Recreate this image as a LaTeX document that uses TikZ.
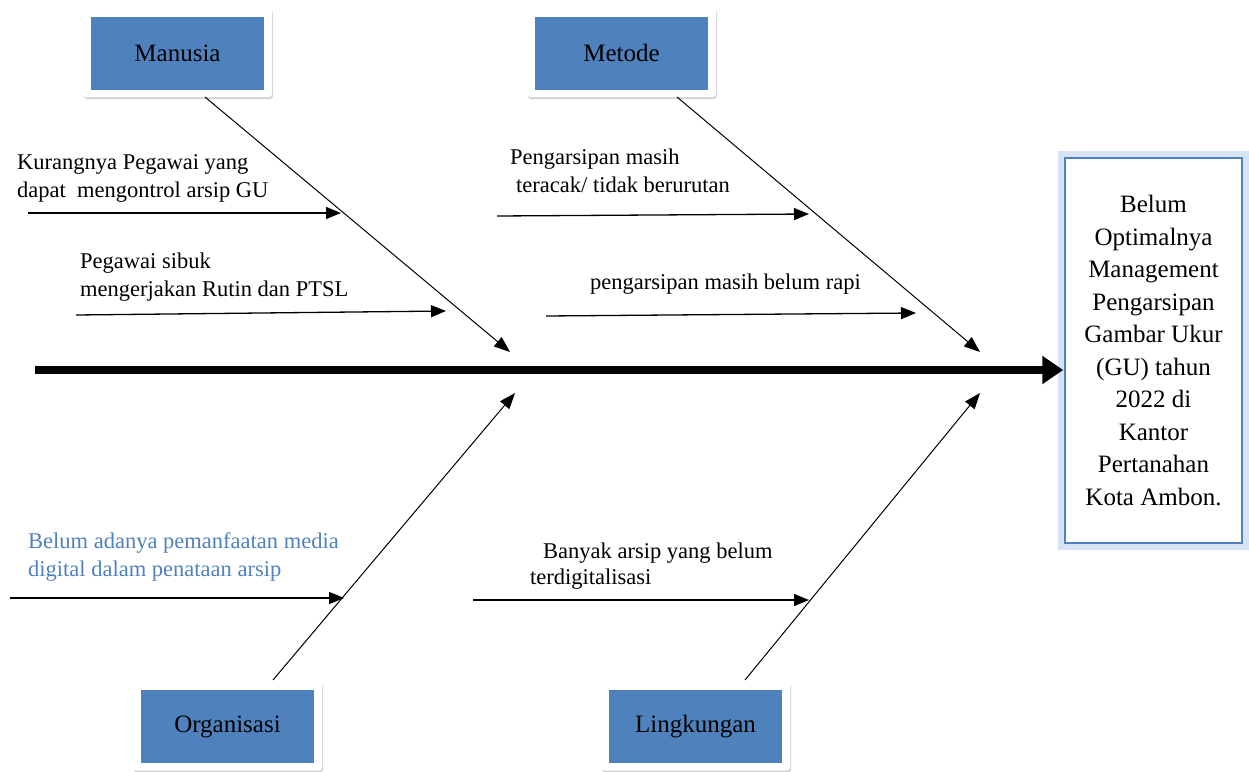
\documentclass[tikz,border=0pt]{standalone}
\usepackage{fontspec}
\setmainfont{Liberation Serif}
\usetikzlibrary{arrows.meta,shadows}
\definecolor{boxblue}{HTML}{4F81BD}
\definecolor{glowblue}{HTML}{B9D0EE}
\definecolor{txtblue}{HTML}{4F81BD}
\begin{document}
\begin{tikzpicture}[x=1pt,y=-1pt,
  frame/.style={fill=white,rounded corners=3pt,minimum width=189pt,minimum height=89pt,
    drop shadow={opacity=0.35,shadow xshift=1pt,shadow yshift=-2pt}},
  catbox/.style={fill=boxblue,minimum width=173pt,minimum height=73pt,inner sep=0pt,
    font=\fontsize{25}{28}\selectfont},
  cause/.style={font=\fontsize{22.5}{28}\selectfont,inner sep=0pt,anchor=base west,align=left},
  bone/.style={line width=1pt,-{Triangle[length=16pt,width=12pt]}},
  sub/.style={line width=1.3pt,-{Triangle[length=15pt,width=12pt]}}]
\useasboundingbox (0,0) rectangle (1249,771);

% spine
\coordinate (s0) at (35,370);
\node[draw=glowblue,line width=14pt,minimum width=177pt,minimum height=385pt,inner sep=0pt,opacity=0.6] (effglow) at (1153.5,350.5) {};
\node[draw=boxblue,line width=1.5pt,fill=white,minimum width=177pt,minimum height=385pt,inner sep=0pt,align=center,
  font=\fontsize{25}{32.5}\selectfont] (eff) at (1153.5,350.5)
  {Belum\\Optimalnya\\Management\\Pengarsipan\\Gambar Ukur\\(GU) tahun\\2022 di\\Kantor\\Pertanahan\\Kota Ambon.};
\draw[line width=7.5pt,-{Triangle[length=21pt,width=27pt]},shorten >=1pt] (s0) -- (eff.west|-s0);

% category boxes
\node[frame] (fm) at (177.5,52.5) {};
\node[catbox] (man) at (177.5,53) {Manusia};
\node[frame] (fme) at (621.5,52.5) {};
\node[catbox] (met) at (621.5,53) {Metode};
\node[frame] (fo) at (227.5,726) {};
\node[catbox] (org) at (227.5,726.5) {Organisasi};
\node[frame] (fl) at (695.5,726) {};
\node[catbox] (lin) at (695.5,726.5) {Lingkungan};

% bone endpoints
\coordinate (m0) at (205,97);  \coordinate (m1) at (510,352);
\coordinate (e0) at (677,97);  \coordinate (e1) at (980,352);
\coordinate (o0) at (273,680); \coordinate (o1) at (515,393);
\coordinate (l0) at (745,680); \coordinate (l1) at (980,393);
\draw[bone] (m0) -- (m1);
\draw[bone] (e0) -- (e1);
\draw[bone] (o0) -- (o1);
\draw[bone] (l0) -- (l1);

% sub causes
\coordinate (a0) at (28,213);  \coordinate (a1) at (341,213);
\coordinate (b0) at (76,315);  \coordinate (b1) at (446,311);
\coordinate (c0) at (497,216); \coordinate (c1) at (809,214);
\coordinate (d0) at (546,316); \coordinate (d1) at (916,313);
\coordinate (f0) at (10,598);  \coordinate (f1) at (344,598);
\coordinate (g0) at (473,600); \coordinate (g1) at (809,600);
\draw[sub] (a0) -- (a1);
\draw[sub] (b0) -- (b1);
\draw[sub] (c0) -- (c1);
\draw[sub] (d0) -- (d1);
\draw[sub] (f0) -- (f1);
\draw[sub] (g0) -- (g1);

% texts (base anchor = last line)
\node[cause] (t1) at (17,197) {Kurangnya Pegawai yang\\dapat\ \ mengontrol arsip GU};
\node[cause] (t2) at (80,296) {Pegawai sibuk\\mengerjakan Rutin dan PTSL};
\node[cause] (t3) at (510,192) {Pengarsipan masih\\\hspace*{6pt}teracak/ tidak berurutan};
\node[cause] (t4) at (590,289) {pengarsipan masih belum rapi};
\node[cause,text=txtblue] (t5) at (28,576) {Belum adanya pemanfaatan media\\digital dalam penataan arsip};
\node[cause] (t6) at (543,558) {Banyak arsip yang belum};
\node[cause] (t7) at (530,584) {terdigitalisasi};
\end{tikzpicture}
\end{document}
